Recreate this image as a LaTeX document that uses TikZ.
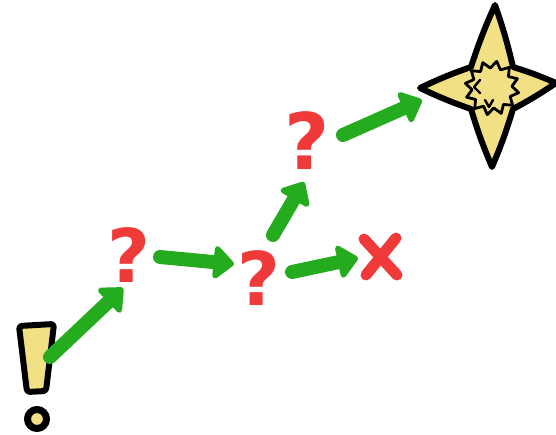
\documentclass[tikz,border=0pt]{standalone}
\usepackage{fontspec}
\setmainfont{DejaVu Sans}
\usetikzlibrary{arrows.meta,calc}
\definecolor{ared}{RGB}{240,58,58}
\definecolor{agreen}{RGB}{36,172,30}
\definecolor{ayellow}{RGB}{241,224,132}
\tikzset{
  garrow/.style={draw=agreen, line width=14pt, line cap=round,
    -{Triangle[length=22pt,width=38pt,round]}},
  qmark/.style={text=ared, inner sep=0pt, font=\fontsize{74}{74}\selectfont\bfseries},
  ink/.style={draw=black, line width=6pt, line join=round, fill=ayellow},
  redx/.style={draw=ared, line width=11pt, line cap=round}
}
\begin{document}
\begin{tikzpicture}[x=1pt,y=-1pt]
\useasboundingbox (0,0) rectangle (556,435);
% exclamation mark
\coordinate (excl) at (37,370);
\draw[ink, rounded corners=3pt] (19,326) -- (54,324) -- (46,391) -- (27,392) -- cycle;
\draw[ink, line width=7pt] (37,419) circle (9.5);
% question marks
\node[qmark] (q1) at (129,255) {?};
\node[qmark] (q2) at (259,278) {?};
\node[qmark, font=\fontsize{78}{78}\selectfont\bfseries] (q3) at (307,141) {?};
% cross
\coordinate (xm) at (381,256);
\draw[redx] ($(xm)+(-17,-17)$) -- ($(xm)+(16,19)$);
\draw[redx] ($(xm)+(15,-18)$) -- ($(xm)+(-15,19)$);
% star
\coordinate (star) at (492,88);
\draw[ink] ($(star)+(3,-83)$) to[bend left=3] ($(star)+(21,-21)$)
  to[bend left=3] ($(star)+(64,-5)$) to[bend left=3] ($(star)+(21,21)$)
  to[bend left=3] ($(star)+(0,79)$) to[bend left=3] ($(star)+(-21,21)$)
  to[bend left=3] ($(star)+(-72,0)$) to[bend left=3] ($(star)+(-21,-21)$)
  to[bend left=3] cycle;
\draw[draw=black, line width=2.8pt, line join=round, fill=ayellow]
  \foreach \i in {0,...,11} {
    \ifnum\i=0 ($(star)+(\i*30+10:27)$) \else -- ($(star)+(\i*30+10:27)$)\fi
    -- ($(star)+(\i*30+25:20)$)
  } -- cycle;
\draw[black, line width=2.4pt, line cap=round, line join=round] ($(star)+(-12,-8)$) -- ($(star)+(-18,-1)$) -- ($(star)+(-12,5)$);
\draw[black, line width=2.4pt, line cap=round, line join=round] ($(star)+(-7,12)$) -- ($(star)+(-3,19)$) -- ($(star)+(1,12)$);
% arrows
\draw[garrow] ($(excl)+(13,-13)$) -- ($(q1)+(-6,33)$);
\draw[garrow] ($(q1)+(31,2)$) -- ($(q2)+(-25,-14)$);
\draw[garrow] ($(q2)+(14,-43)$) -- ($(q3)+(-3,41)$);
\draw[garrow] ($(q2)+(33,-6)$) -- ($(xm)+(-23,2)$);
\draw[garrow] ($(q3)+(36,-6)$) -- ($(star)+(-70,12)$);
\end{tikzpicture}
\end{document}
